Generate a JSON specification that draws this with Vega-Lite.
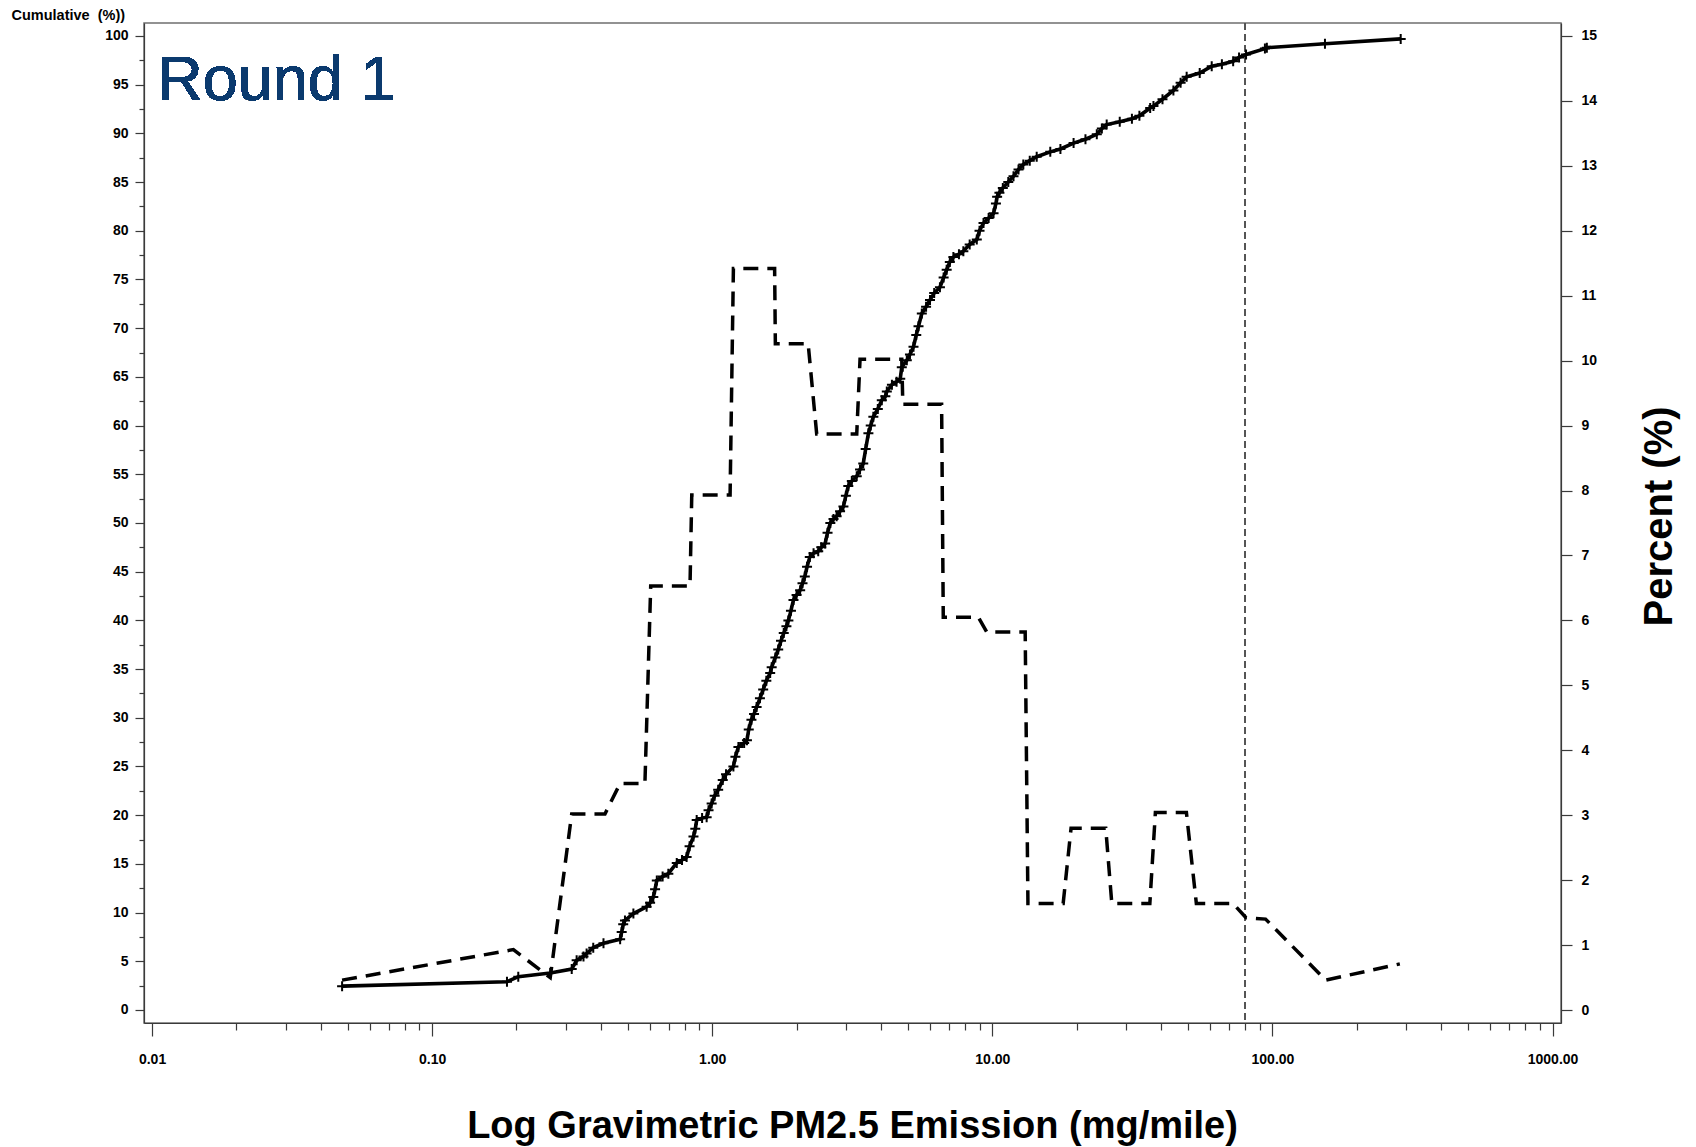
{
  "$schema": "https://vega.github.io/schema/vega-lite/v6.json",
  "width": 1417,
  "height": 1000,
  "autosize": "none",
  "padding": {"left": 144, "top": 23, "right": 135, "bottom": 124},
  "background": "white",
  "config": {
    "font": "Liberation Sans",
    "view": {"stroke": "#6f6f6f", "strokeWidth": 1.5},
    "axis": {
      "grid": false,
      "domainColor": "#3a3a3a",
      "domainWidth": 1.2,
      "tickColor": "#3a3a3a",
      "tickWidth": 1.2,
      "labelColor": "#000000",
      "labelFont": "Liberation Sans",
      "labelFontWeight": "bold",
      "labelFontSize": 14,
      "titleFont": "Liberation Sans",
      "titleColor": "#000000",
      "titleFontWeight": "bold"
    }
  },
  "datasets": {
    "cum": [
      {"x": 0.0477, "c": 2.45}, {"x": 0.185, "c": 2.9}, {"x": 0.203, "c": 3.42}, {"x": 0.264, "c": 3.8},
      {"x": 0.315, "c": 4.2}, {"x": 0.328, "c": 5.1}, {"x": 0.347, "c": 5.5}, {"x": 0.356, "c": 5.8},
      {"x": 0.376, "c": 6.4}, {"x": 0.409, "c": 6.85}, {"x": 0.469, "c": 7.26}, {"x": 0.475, "c": 8.0},
      {"x": 0.481, "c": 8.8}, {"x": 0.488, "c": 9.2}, {"x": 0.523, "c": 9.9}, {"x": 0.583, "c": 10.6},
      {"x": 0.6, "c": 11.0}, {"x": 0.616, "c": 11.6}, {"x": 0.625, "c": 12.4}, {"x": 0.634, "c": 13.3},
      {"x": 0.665, "c": 13.7}, {"x": 0.697, "c": 14.0}, {"x": 0.747, "c": 15.1}, {"x": 0.78, "c": 15.4},
      {"x": 0.81, "c": 15.7}, {"x": 0.83, "c": 16.8}, {"x": 0.857, "c": 17.8}, {"x": 0.87, "c": 18.6},
      {"x": 0.88, "c": 19.5}, {"x": 0.92, "c": 19.7}, {"x": 0.955, "c": 19.8}, {"x": 0.97, "c": 20.5},
      {"x": 0.995, "c": 21.2}, {"x": 1.02, "c": 22.0}, {"x": 1.05, "c": 22.6}, {"x": 1.09, "c": 23.6},
      {"x": 1.12, "c": 24.2}, {"x": 1.19, "c": 25.0}, {"x": 1.21, "c": 26.0}, {"x": 1.24, "c": 27.0},
      {"x": 1.3, "c": 27.4}, {"x": 1.33, "c": 27.7}, {"x": 1.35, "c": 28.8}, {"x": 1.38, "c": 29.8},
      {"x": 1.41, "c": 30.4}, {"x": 1.44, "c": 31.1}, {"x": 1.48, "c": 32.0}, {"x": 1.52, "c": 32.9},
      {"x": 1.56, "c": 33.8}, {"x": 1.61, "c": 34.6}, {"x": 1.63, "c": 35.2}, {"x": 1.68, "c": 36.2},
      {"x": 1.72, "c": 37.0}, {"x": 1.76, "c": 37.9}, {"x": 1.8, "c": 38.7}, {"x": 1.84, "c": 39.4},
      {"x": 1.87, "c": 40.0}, {"x": 1.91, "c": 41.0}, {"x": 1.95, "c": 42.1}, {"x": 2.0, "c": 42.6},
      {"x": 2.06, "c": 43.1}, {"x": 2.1, "c": 43.8}, {"x": 2.14, "c": 44.5}, {"x": 2.18, "c": 45.5},
      {"x": 2.23, "c": 46.5}, {"x": 2.3, "c": 46.9}, {"x": 2.39, "c": 47.1}, {"x": 2.45, "c": 47.5},
      {"x": 2.53, "c": 47.9}, {"x": 2.58, "c": 49.0}, {"x": 2.64, "c": 50.0}, {"x": 2.71, "c": 50.4},
      {"x": 2.78, "c": 50.7}, {"x": 2.86, "c": 51.2}, {"x": 2.94, "c": 51.7}, {"x": 3.0, "c": 52.8},
      {"x": 3.06, "c": 53.8}, {"x": 3.15, "c": 54.3}, {"x": 3.28, "c": 54.8}, {"x": 3.37, "c": 55.5},
      {"x": 3.46, "c": 56.1}, {"x": 3.53, "c": 57.6}, {"x": 3.61, "c": 59.2}, {"x": 3.68, "c": 60.0},
      {"x": 3.76, "c": 60.9}, {"x": 3.9, "c": 61.7}, {"x": 4.03, "c": 62.6}, {"x": 4.15, "c": 63.0},
      {"x": 4.2, "c": 63.5}, {"x": 4.38, "c": 64.2}, {"x": 4.55, "c": 64.5}, {"x": 4.69, "c": 64.8},
      {"x": 4.75, "c": 66.0}, {"x": 4.95, "c": 66.7}, {"x": 5.08, "c": 67.3}, {"x": 5.23, "c": 68.1},
      {"x": 5.35, "c": 69.3}, {"x": 5.45, "c": 70.2}, {"x": 5.6, "c": 71.5}, {"x": 5.8, "c": 72.2},
      {"x": 5.99, "c": 72.9}, {"x": 6.2, "c": 73.6}, {"x": 6.5, "c": 74.2}, {"x": 6.7, "c": 75.2},
      {"x": 6.87, "c": 76.0}, {"x": 7.05, "c": 76.8}, {"x": 7.26, "c": 77.3}, {"x": 7.6, "c": 77.6},
      {"x": 7.88, "c": 77.9}, {"x": 8.3, "c": 78.6}, {"x": 8.8, "c": 79.1}, {"x": 9.0, "c": 80.0},
      {"x": 9.3, "c": 80.8}, {"x": 9.7, "c": 81.3}, {"x": 10.1, "c": 81.8}, {"x": 10.3, "c": 82.8},
      {"x": 10.4, "c": 83.5}, {"x": 10.6, "c": 83.9}, {"x": 10.9, "c": 84.4}, {"x": 11.4, "c": 85.0},
      {"x": 11.9, "c": 85.6}, {"x": 12.4, "c": 86.3}, {"x": 12.9, "c": 86.8}, {"x": 13.6, "c": 87.2},
      {"x": 14.4, "c": 87.6}, {"x": 16.1, "c": 88.1}, {"x": 17.5, "c": 88.4}, {"x": 19.5, "c": 89.0},
      {"x": 21.5, "c": 89.4}, {"x": 23.6, "c": 89.9}, {"x": 24.6, "c": 90.5}, {"x": 25.6, "c": 90.9},
      {"x": 28.5, "c": 91.2}, {"x": 31.5, "c": 91.5}, {"x": 33.5, "c": 91.8}, {"x": 36.6, "c": 92.6},
      {"x": 37.6, "c": 92.8}, {"x": 40.5, "c": 93.5}, {"x": 44.3, "c": 94.4}, {"x": 47, "c": 95.2},
      {"x": 49.4, "c": 95.8}, {"x": 55, "c": 96.2}, {"x": 60.7, "c": 96.9}, {"x": 66, "c": 97.1},
      {"x": 72.4, "c": 97.4}, {"x": 76, "c": 97.8}, {"x": 80.5, "c": 98.1}, {"x": 94, "c": 98.7},
      {"x": 95.5, "c": 98.8}, {"x": 154, "c": 99.2}, {"x": 287, "c": 99.7}
    ],
    "hist": [
      {"x": 0.0477, "p": 0.46}, {"x": 0.195, "p": 0.93}, {"x": 0.264, "p": 0.5}, {"x": 0.315, "p": 3.02},
      {"x": 0.414, "p": 3.02}, {"x": 0.469, "p": 3.49}, {"x": 0.575, "p": 3.49}, {"x": 0.603, "p": 6.53},
      {"x": 0.833, "p": 6.53}, {"x": 0.845, "p": 7.93}, {"x": 1.158, "p": 7.93}, {"x": 1.19, "p": 11.42},
      {"x": 1.67, "p": 11.42}, {"x": 1.68, "p": 10.26}, {"x": 2.2, "p": 10.26}, {"x": 2.36, "p": 8.87},
      {"x": 3.28, "p": 8.87}, {"x": 3.37, "p": 10.02}, {"x": 4.75, "p": 10.02}, {"x": 4.79, "p": 9.33},
      {"x": 6.59, "p": 9.33}, {"x": 6.68, "p": 6.05}, {"x": 8.91, "p": 6.05}, {"x": 9.55, "p": 5.82},
      {"x": 13.1, "p": 5.82}, {"x": 13.4, "p": 1.64}, {"x": 17.9, "p": 1.64}, {"x": 19.1, "p": 2.8},
      {"x": 25.4, "p": 2.8}, {"x": 26.7, "p": 1.64}, {"x": 36.5, "p": 1.64}, {"x": 38.2, "p": 3.04},
      {"x": 49.3, "p": 3.04}, {"x": 53.5, "p": 1.64}, {"x": 72.3, "p": 1.64}, {"x": 80.5, "p": 1.42},
      {"x": 94.5, "p": 1.4}, {"x": 155, "p": 0.46}, {"x": 285, "p": 0.71}
    ]
  },
  "layer": [
    {
      "data": {"name": "cum"},
      "encoding": {
        "x": {
          "field": "x", "type": "quantitative",
          "scale": {"type": "log", "domain": [0.00936, 1072], "nice": false},
          "axis": {
            "orient": "bottom",
            "values": [0.01,0.02,0.03,0.04,0.05,0.06,0.07,0.08,0.09,0.1,0.2,0.3,0.4,0.5,0.6,0.7,0.8,0.9,1,2,3,4,5,6,7,8,9,10,20,30,40,50,60,70,80,90,100,200,300,400,500,600,700,800,900,1000],
            "format": ".2f",
            "labelExpr": "indexof([0.01,0.1,1,10,100,1000], datum.value) >= 0 ? datum.label : ''",
            "tickSize": {"condition": {"test": "indexof([0.01,0.1,1,10,100,1000], datum.value) >= 0", "value": 13}, "value": 7},
            "labelPadding": 16,
            "labelFlush": false,
            "labelOverlap": false,
            "title": "Log Gravimetric PM2.5 Emission (mg/mile)",
            "titleFontSize": 38,
            "titleX": 708,
            "titleY": 114,
            "titleBaseline": "alphabetic",
            "titleAnchor": "middle",
            "titleAlign": "center"
          }
        },
        "y": {
          "field": "c", "type": "quantitative",
          "scale": {"domain": [-1.335, 101.33], "nice": false, "zero": false},
          "axis": {
            "orient": "left",
            "values": [0,2.5,5,7.5,10,12.5,15,17.5,20,22.5,25,27.5,30,32.5,35,37.5,40,42.5,45,47.5,50,52.5,55,57.5,60,62.5,65,67.5,70,72.5,75,77.5,80,82.5,85,87.5,90,92.5,95,97.5,100],
            "labelExpr": "datum.value % 5 === 0 ? datum.label : ''",
            "tickSize": {"condition": {"test": "datum.value % 5 === 0", "value": 9}, "value": 5},
            "labelPadding": 7,
            "labelOverlap": false,
            "title": "Cumulative\u00a0 (%))",
            "titleFontSize": 14.5,
            "titleAngle": 0,
            "titleAlign": "left",
            "titleBaseline": "middle",
            "titleX": -133,
            "titleY": -8
          }
        }
      },
      "layer": [
        {
          "mark": {"type": "rule", "color": "#555555", "strokeWidth": 1.2, "strokeDash": [7, 4]},
          "encoding": {"x": {"datum": 80}, "y": null}
        },
        {
          "mark": {"type": "line", "color": "#000000", "strokeWidth": 3.6}
        },
        {
          "mark": {"type": "point", "shape": "M-1,0H1M0,-1V1", "size": 100, "filled": false, "color": "#000000", "strokeWidth": 2, "opacity": 1}
        },
        {
          "mark": {"type": "text", "text": "Round 1", "font": "Liberation Sans", "fontSize": 63, "fontWeight": "normal", "color": "#0b3a6e", "align": "left", "baseline": "alphabetic"},
          "encoding": {"x": {"datum": 0.01043}, "y": {"datum": 93.4}}
        }
      ]
    },
    {
      "data": {"name": "hist"},
      "mark": {"type": "line", "color": "#000000", "strokeWidth": 3.5, "strokeDash": [15, 9]},
      "encoding": {
        "x": {"field": "x", "type": "quantitative", "scale": {"type": "log", "domain": [0.00936, 1072], "nice": false}},
        "y": {
          "field": "p", "type": "quantitative",
          "scale": {"domain": [-0.2, 15.2], "nice": false, "zero": false},
          "axis": {
            "orient": "right",
            "values": [0,0.25,0.5,0.75,1,1.25,1.5,1.75,2,2.25,2.5,2.75,3,3.25,3.5,3.75,4,4.25,4.5,4.75,5,5.25,5.5,5.75,6,6.25,6.5,6.75,7,7.25,7.5,7.75,8,8.25,8.5,8.75,9,9.25,9.5,9.75,10,10.25,10.5,10.75,11,11.25,11.5,11.75,12,12.25,12.5,12.75,13,13.25,13.5,13.75,14,14.25,14.5,14.75,15],
            "format": "d",
            "labelExpr": "datum.value % 1 === 0 ? datum.label : ''",
            "tickSize": {"condition": {"test": "datum.value % 1 === 0", "value": 11}, "value": 5},
            "labelPadding": 9,
            "labelOverlap": false,
            "labelAlign": "left",
            "title": "Percent (%)",
            "titleFontSize": 40,
            "titleAngle": 270,
            "titleAlign": "center",
            "titleBaseline": "middle",
            "titleX": 98,
            "titleY": 493
          }
        }
      }
    }
  ],
  "resolve": {"scale": {"y": "independent"}}
}
